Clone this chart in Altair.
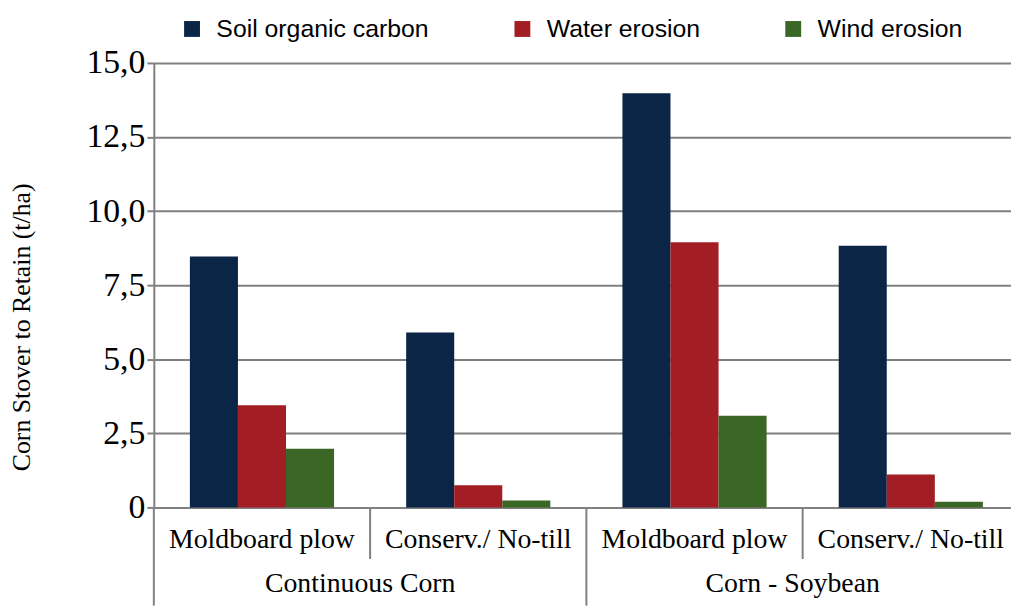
import altair as alt
import pandas as pd

# ---- data ----
groups = ["Continuous Corn", "Continuous Corn", "Corn - Soybean", "Corn - Soybean"]
tillage = ["Moldboard plow", "Conserv./ No-till", "Moldboard plow", "Conserv./ No-till"]
series = ["Soil organic carbon", "Water erosion", "Wind erosion"]
soc = [8.47, 5.90, 13.98, 8.83]
water = [3.45, 0.75, 8.95, 1.11]
wind = [1.98, 0.23, 3.09, 0.19]
colors = ["#0b2546", "#a21d24", "#3a6626"]
y_ticks = [0, 2.5, 5, 7.5, 10, 12.5, 15]

keys = [f"{g}|{t}" for g, t in zip(groups, tillage)]
rows = []
for k, vals in zip(keys, zip(soc, water, wind)):
    for s, v in zip(series, vals):
        rows.append({"key": k, "series": s, "value": v})
bars_df = pd.DataFrame(rows)

# separators at category boundaries (index positions), long at group starts
sep_rows = []
for i, g in enumerate(groups):
    first_of_group = i == 0 or groups[i - 1] != g
    sep_rows.append({"pos": i, "kind": "long" if first_of_group else "short"})
sep_df = pd.DataFrame(sep_rows)

# group labels at the middle of each group's span of categories
grp_rows = []
for g in dict.fromkeys(groups):
    idx = [i for i, gg in enumerate(groups) if gg == g]
    grp_rows.append({"pos": (idx[0] + idx[-1] + 1) / 2, "label": g})
grp_df = pd.DataFrame(grp_rows)

W, H = 864, 448
RANGE = 872
serif = "Liberation Serif"

xscale = alt.Scale(domain=keys, range=[0, RANGE], paddingInner=1/3, paddingOuter=1/6)
pos_scale = alt.Scale(domain=[0, len(keys)], range=[0, RANGE], nice=False, zero=False)

bars = alt.Chart(bars_df).mark_bar(strokeWidth=0).encode(
    x=alt.X("key:N", scale=xscale, sort=keys,
            axis=alt.Axis(title=None, labelExpr="split(datum.label, '|')[1]",
                          labelFont=serif, labelFontSize=28, labelColor="black",
                          labelAngle=0, labelPadding=18, ticks=False, domain=False,
                          grid=False, labelLimit=300)),
    xOffset=alt.XOffset("series:N", sort=series, scale=alt.Scale(paddingInner=0, paddingOuter=0)),
    y=alt.Y("value:Q", scale=alt.Scale(domain=[0, 15], nice=False),
            axis=alt.Axis(values=y_ticks, title="Corn Stover to Retain (t/ha)",
                          labelExpr="datum.value == 0 ? '0' : replace(format(datum.value, '.1f'), '.', ',')",
                          labelFont=serif, labelFontSize=34, labelColor="black", labelPadding=2,
                          tickSize=7, tickColor="#808080", tickWidth=2,
                          domainColor="#808080", domainWidth=2,
                          grid=True, gridColor="#808080", gridWidth=2,
                          titleFont=serif, titleFontSize=26, titleFontWeight="normal",
                          titleColor="black", titleAngle=-90, titleX=-133, titleY=266,
                          titleAlign="center", titleBaseline="middle")),
    color=alt.Color("series:N", sort=series,
                    scale=alt.Scale(domain=series, range=colors),
                    legend=alt.Legend(title=None, orient="none", legendX=26, legendY=-47,
                                      direction="horizontal", symbolType="square",
                                      symbolSize=256, symbolStrokeWidth=0,
                                      labelFont="Liberation Sans", labelFontSize=25,
                                      labelColor="black", labelOffset=12, columnPadding=81,
                                      labelLimit=400)),
)

seps_short = alt.Chart(sep_df).transform_filter("datum.kind == 'short'").mark_rule(
    color="#808080", strokeWidth=2).encode(
    x=alt.X("pos:Q", scale=pos_scale, axis=None),
    y=alt.value(H),
    y2=alt.value(H + 52),
)

seps_long = alt.Chart(sep_df).transform_filter("datum.kind == 'long'").mark_rule(
    color="#808080", strokeWidth=2).encode(
    x=alt.X("pos:Q", scale=pos_scale, axis=None),
    y=alt.value(H),
    y2=alt.value(H + 99),
)

grp_text = alt.Chart(grp_df).mark_text(font=serif, fontSize=28, color="black",
                                       baseline="middle", align="center", dx=-10).encode(
    x=alt.X("pos:Q", scale=pos_scale, axis=None),
    y=alt.value(H + 77),
    text="label:N",
)

chart = alt.layer(bars, seps_short, seps_long, grp_text).resolve_scale(
    x="independent"
).properties(
    width=W, height=H,
    autosize=alt.AutoSizeParams(type="none"),
    padding={"left": 147, "top": 53, "right": 0, "bottom": 99},
).configure_view(stroke=None).configure(background="white")

chart.save("out.html", embed_options={"renderer": "svg", "actions": False})
